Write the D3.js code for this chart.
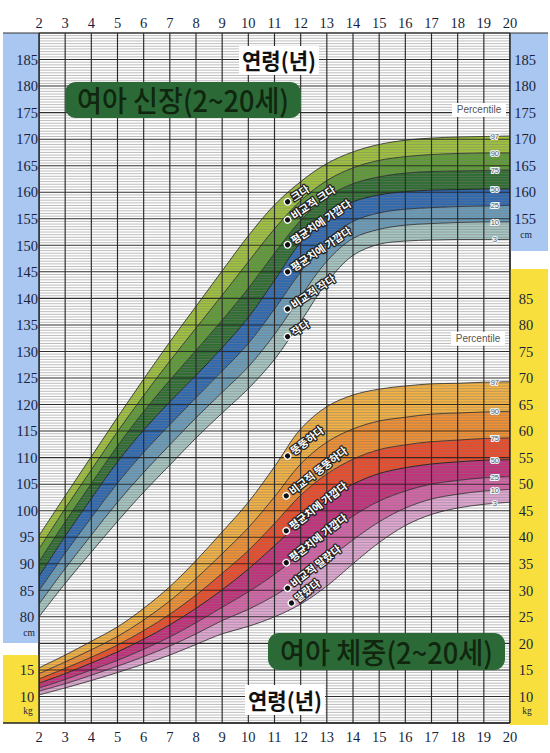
<!DOCTYPE html>
<html><head><meta charset="utf-8">
<script src="https://cdn.jsdelivr.net/npm/d3@7/dist/d3.min.js"></script>
<style>html,body{margin:0;padding:0;background:#fff}svg{display:block}</style>
</head><body>
<svg id="c" width="550" height="753"></svg>
<script>
// ---------- data ----------
const ages = [2,3,4,5,6,7,8,9,10,11,12,13,14,15,16,17,18,19,20];
const percentiles = ["97","90","75","50","25","10","3"];

const heightP97 = [95.3,102.8,110.2,117.6,124.8,131.8,138.5,145.2,151.8,157.6,162.0,165.4,167.6,169.0,169.8,170.2,170.4,170.5,170.6];
const heightP90 = [92.8,100.4,107.7,114.9,121.7,128.2,134.4,140.6,146.9,153.1,158.4,162.2,164.6,166.0,166.7,167.1,167.3,167.4,167.4];
const heightP75 = [90.4,97.9,105.1,112.2,118.7,124.6,130.2,135.9,141.9,148.5,154.7,159.1,161.6,162.9,163.6,163.9,164.0,164.1,164.2];
const heightP50 = [87.6,95.2,102.3,109.2,115.2,120.5,125.5,130.7,136.4,143.4,150.6,155.5,158.2,159.5,160.1,160.4,160.5,160.6,160.6];
const heightP25 = [84.9,92.0,98.7,105.2,111.0,116.2,121.3,126.3,131.5,138.0,145.0,151.0,154.5,156.1,156.8,157.1,157.3,157.4,157.5];
const heightP10 = [82.4,89.1,95.4,101.6,107.2,112.4,117.5,122.3,127.1,133.2,140.3,147.0,151.3,153.0,153.8,154.1,154.3,154.4,154.4];
const heightP3  = [80.0,86.3,92.2,98.0,103.5,108.6,113.7,118.4,123.0,128.5,135.6,143.0,148.1,150.2,150.8,151.0,151.1,151.1,151.1];

const weightP97 = [15.4,17.8,20.4,23.1,26.6,30.7,35.6,41.0,46.6,53.3,60.4,64.6,66.8,67.9,68.5,68.9,69.0,69.2,69.3];
const weightP90 = [14.3,16.5,18.8,21.3,24.4,28.0,32.2,36.9,41.8,47.6,53.8,57.9,60.4,61.9,62.6,63.2,63.4,63.6,63.7];
const weightP75 = [13.3,15.3,17.4,19.7,22.4,25.5,29.1,33.2,37.5,42.6,47.9,51.9,54.7,56.5,57.4,58.0,58.3,58.6,58.7];
const weightP50 = [12.5,14.3,16.3,18.4,20.8,23.5,26.6,30.1,34.0,38.4,43.0,47.0,50.0,52.0,53.1,53.8,54.2,54.5,54.6];
const weightP25 = [11.6,13.2,15.0,16.8,18.9,21.2,23.9,26.8,29.7,33.0,36.8,40.5,44.0,46.8,48.7,50.0,50.7,51.2,51.4];
const weightP10 = [11.0,12.4,14.0,15.7,17.5,19.5,21.8,24.3,26.4,29.0,32.1,35.7,39.5,42.9,45.5,47.2,48.1,48.7,49.0];
const weightP3  = [10.3,11.6,13.0,14.5,16.1,17.8,19.8,21.8,23.2,25.0,27.4,30.8,35.0,39.0,42.2,44.3,45.5,46.2,46.6];

const ageTicks = [2,3,4,5,6,7,8,9,10,11,12,13,14,15,16,17,18,19,20];
const heightTicksLeft = [80,85,90,95,100,105,110,115,120,125,130,135,140,145,150,155,160,165,170,175,180,185];
const heightTicksRight = [155,160,165,170,175,180,185];
const weightTicksLeft = [10,15];
const weightTicksRight = [10,15,20,25,30,35,40,45,50,55,60,65,70,75,80,85];

const heightLabels = ["크다","비교적 크다","평균치에 가깝다","평균치에 가깝다","비교적 작다","작다"];
const heightLabelAges = [11.5,11.5,11.5,11.5,11.5,11.5];
const heightLabelValues = [158.2,154.8,150.1,145.0,138.0,132.8];
const weightLabels = ["뚱뚱하다","비교적 뚱뚱하다","평균치에 가깝다","평균치에 가깝다","비교적 말랐다","말랐다"];
const weightLabelAges = [11.5,11.45,11.45,11.45,11.5,11.65];
const weightLabelValues = [55.3,47.8,41.2,35.2,30.4,27.6];

const heightColors = ["#a0c43c","#5e9c34","#2d6d2f","#2d69b3","#6a9dbb","#a7c7c4"];
const weightColors = ["#f6b341","#f4902f","#ef4a28","#c62e7c","#d763a8","#e2a8d4"];

// ---------- scales ----------
const svg = d3.select("#c");
const x = d3.scaleLinear().domain([2,20]).range([39,510]);
const yH = d3.scaleLinear().domain([60,190]).range([723,33]);
const yW = d3.scaleLinear().domain([5,135]).range([723,33]);
const idx = d3.range(ages.length);
const curve = d3.curveCatmullRom.alpha(0.5);

svg.append("rect").attr("width",550).attr("height",753).attr("fill","#fff");

// ---------- bands ----------
function drawBands(series, colors, yS){
  const g = svg.append("g");
  for(let i=0;i<series.length-1;i++){
    const up = series[i], lo = series[i+1];
    const area = d3.area().curve(curve)
      .x(j=>x(ages[j])).y0(j=>yS(lo[j])).y1(j=>yS(up[j]));
    g.append("path").attr("d",area(idx)).attr("fill",colors[i]);
  }
}
const hSeries = [heightP97,heightP90,heightP75,heightP50,heightP25,heightP10,heightP3];
const wSeries = [weightP97,weightP90,weightP75,weightP50,weightP25,weightP10,weightP3];
drawBands(hSeries, heightColors, yH);
drawBands(wSeries, weightColors, yW);

// ---------- grid ----------
const grid = svg.append("g");
d3.range(60,190.01,0.5).forEach(v=>{
  if(v%5===0) return;
  grid.append("line").attr("x1",39).attr("x2",510).attr("y1",yH(v)).attr("y2",yH(v))
    .attr("stroke","#7c7c7c").attr("stroke-width",0.6).attr("stroke-opacity",0.85);
});
d3.range(60,190.01,5).forEach(v=>{
  grid.append("line").attr("x1",39).attr("x2",510).attr("y1",yH(v)).attr("y2",yH(v))
    .attr("stroke","#2e2e2e").attr("stroke-width",1.05);
});
ageTicks.forEach(a=>{
  grid.append("line").attr("x1",x(a)).attr("x2",x(a)).attr("y1",33).attr("y2",723)
    .attr("stroke","#2a2a2a").attr("stroke-width",1.15);
});

// ---------- percentile curves ----------
function drawCurves(series, yS){
  const line = d3.line().curve(curve).x(j=>x(ages[j]));
  series.forEach((s,k)=>{
    svg.append("path").attr("d",line.y(j=>yS(s[j]))(idx))
      .attr("fill","none").attr("stroke","#262626").attr("stroke-width",k===3?1.0:0.8);
  });
}
drawCurves(hSeries, yH);
drawCurves(wSeries, yW);

// ---------- side panels ----------
svg.append("rect").attr("x",3).attr("y",33).attr("width",36).attr("height",610).attr("fill","#a9c7f1");
svg.append("rect").attr("x",3).attr("y",655).attr("width",36).attr("height",68).attr("fill","#f8df3d");
svg.append("rect").attr("x",510).attr("y",33).attr("width",38).attr("height",218).attr("fill","#a9c7f1");
svg.append("rect").attr("x",510).attr("y",269).attr("width",38).attr("height",456).attr("fill","#f8df3d");
svg.append("line").attr("x1",39).attr("x2",39).attr("y1",33).attr("y2",723).attr("stroke","#222").attr("stroke-width",1.4);
svg.append("line").attr("x1",510).attr("x2",510).attr("y1",33).attr("y2",723).attr("stroke","#222").attr("stroke-width",1.4);
svg.append("line").attr("x1",3).attr("x2",548).attr("y1",33).attr("y2",33).attr("stroke","#333").attr("stroke-width",1.2);
svg.append("line").attr("x1",3).attr("x2",510).attr("y1",723).attr("y2",723).attr("stroke","#222").attr("stroke-width",1.4);

// ---------- tick labels ----------
const serif = "'Liberation Serif','DejaVu Serif','Times New Roman',serif";
const tickG = svg.append("g").style("font-family",serif).attr("font-size",14.5).attr("fill","#1a1f3c").attr("text-anchor","middle");
ageTicks.forEach(a=>{
  tickG.append("text").attr("x",x(a)).attr("y",28).text(a);
  tickG.append("text").attr("x",x(a)).attr("y",742).text(a);
});
heightTicksLeft.forEach(v=>tickG.append("text").attr("x",27).attr("y",yH(v)).attr("dy","0.36em").text(v));
heightTicksRight.forEach(v=>tickG.append("text").attr("x",525).attr("y",yH(v)).attr("dy","0.36em").text(v));
weightTicksLeft.forEach(v=>tickG.append("text").attr("x",27).attr("y",yW(v)).attr("dy","0.36em").text(v));
weightTicksRight.forEach(v=>tickG.append("text").attr("x",526).attr("y",yW(v)).attr("dy","0.36em").text(v));
const unitG = svg.append("g").style("font-family",serif).attr("font-size",9.5).attr("fill","#1a1f3c").attr("text-anchor","middle");
unitG.append("text").attr("x",29).attr("y",yH(80)+19).text("cm");
unitG.append("text").attr("x",28).attr("y",yW(10)+18).text("kg");
unitG.append("text").attr("x",526).attr("y",yH(155)+19).text("cm");
unitG.append("text").attr("x",527).attr("y",yW(10)+18).text("kg");

// ---------- percentile tags ----------
const sans = "'Liberation Sans','DejaVu Sans',sans-serif";
function pctTags(series, yS){
  series.forEach((s,k)=>{
    const v = s[17] + 0.42*(s[18]-s[17]);
    svg.append("text").attr("x",x(19.42)).attr("y",yS(v)).attr("dy","0.35em")
      .attr("text-anchor","middle").style("font-family",sans).attr("font-size",7.5)
      .attr("fill","#5a5a5a").attr("stroke","#f4f4f4").attr("stroke-width",2.2)
      .attr("paint-order","stroke").text(percentiles[k]);
  });
}
pctTags(hSeries, yH);
pctTags(wSeries, yW);
function pctTitle(cx, cy){
  svg.append("rect").attr("x",cx-27).attr("y",cy-7).attr("width",54).attr("height",14).attr("fill","#fff");
  svg.append("text").attr("x",cx).attr("y",cy).attr("dy","0.35em").attr("text-anchor","middle")
    .style("font-family",sans).attr("font-size",10).attr("fill","#555").text("Percentile");
}
pctTitle(479, yH(175.5));
pctTitle(478, yW(77.4));

// ---------- titles ----------
const kr = "'Noto Sans CJK KR','Noto Sans CJK SC',sans-serif";
function ageTitle(x0, y0, w, h){
  svg.append("rect").attr("x",x0).attr("y",y0).attr("width",w).attr("height",h).attr("fill","#fff");
  svg.append("text").attr("x",x0+3).attr("y",y0+h-6).style("font-family",kr).attr("font-weight",700)
    .attr("font-size",22).attr("fill","#111").attr("textLength",w-6).attr("lengthAdjust","spacingAndGlyphs")
    .text("연령(년)");
}
ageTitle(239, 46, 80, 29);
ageTitle(245, 685, 80, 30);

function greenTitle(x0, y0, w, h, label){
  svg.append("rect").attr("x",x0).attr("y",y0).attr("width",w).attr("height",h).attr("rx",11)
    .attr("fill","#2b6a36");
  svg.append("text").attr("x",x0+12).attr("y",y0+h-6).style("font-family",kr).attr("font-weight",500)
    .attr("font-size",29).attr("fill","#10260f").attr("textLength",w-24).attr("lengthAdjust","spacingAndGlyphs")
    .text(label);
}
greenTitle(65, 82, 236, 36, "여아 신장(2~20세)");
greenTitle(268, 633, 237, 37, "여아 체중(2~20세)");

// ---------- band labels ----------
function bandLabels(texts, la, lv, yS, angle){
  texts.forEach((t,i)=>{
    const g = svg.append("g").attr("transform",`translate(${x(la[i])},${yS(lv[i])}) rotate(${angle})`);
    g.append("circle").attr("r",3.2).attr("fill","#111").attr("stroke","#fff").attr("stroke-width",1.3);
    g.append("text").attr("x",5.5).attr("dy","0.36em").text(t)
      .style("font-family",kr).attr("font-size",10.5).attr("font-weight",700)
      .attr("fill","#fff").attr("stroke","#1e1e1e").attr("stroke-width",2.5)
      .attr("stroke-linejoin","round").attr("paint-order","stroke");
  });
}
bandLabels(heightLabels, heightLabelAges, heightLabelValues, yH, -34);
bandLabels(weightLabels, weightLabelAges, weightLabelValues, yW, -38);
</script>
</body></html>
